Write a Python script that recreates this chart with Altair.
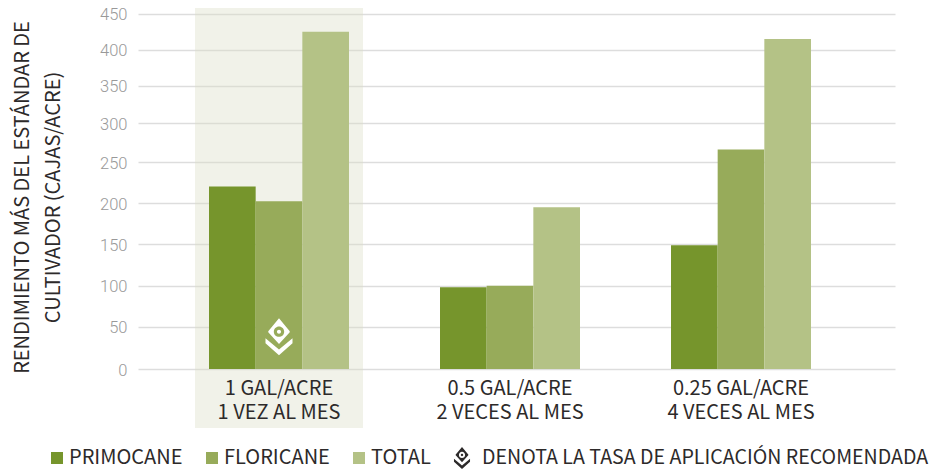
import altair as alt
import pandas as pd

categories = ["1 GAL/ACRE|1 VEZ AL MES", "0.5 GAL/ACRE|2 VECES AL MES", "0.25 GAL/ACRE|4 VECES AL MES"]
line_one = ["1 GAL/ACRE", "0.5 GAL/ACRE", "0.25 GAL/ACRE"]
line_two = ["1 VEZ AL MES", "2 VECES AL MES", "4 VECES AL MES"]
series = ["PRIMOCANE", "FLORICANE", "TOTAL"]
colors = ["#76952C", "#97AB5A", "#B4C286"]
primocane = [220, 98, 149]
floricane = [202, 100, 266]
total = [425, 195, 415]
y_ticks = [0, 50, 100, 150, 200, 250, 300, 350, 400, 450]
y_pixels = [356, 313.7, 272.7, 231.3, 190, 149, 110, 72.7, 36.7, 0.7]
highlight = [categories[0]]
legend_note = ["DENOTA LA TASA DE APLICACIÓN RECOMENDADA"]
y_title = ["RENDIMIENTO MÁS DEL ESTÁNDAR DE", "CULTIVADOR (CAJAS/ACRE)"]
INK = "#2D2A2A"

ICON = ("M0 -1 L0.57 -0.32 Q0.6 -0.28 0.57 -0.24 L0 0.38 L-0.57 -0.24 Q-0.6 -0.28 -0.57 -0.32 Z "
        "M0 -0.56 A0.28 0.28 0 0 0 0 0 A0.28 0.28 0 0 0 0 -0.56 Z "
        "M0 -0.39 A0.11 0.11 0 0 1 0 -0.17 A0.11 0.11 0 0 1 0 -0.39 Z "
        "M-0.73 0.07 L0 0.68 L0.73 0.07 L0.73 0.34 L0 1 L-0.73 0.34 Z")

rows = []
for i, c in enumerate(categories):
    for s, vals in zip(series, [primocane, floricane, total]):
        rows.append({"cat": c, "serie": s, "valor": vals[i]})
df = pd.DataFrame(rows)
labels = pd.DataFrame({"cat": categories, "a": line_one, "b": line_two})

x_scale = alt.Scale(domain=categories, paddingInner=91 / 231, paddingOuter=77.5 / 231, align=71 / 155)
y_scale = alt.Scale(domain=y_ticks, range=y_pixels)
x_enc = alt.X("cat:N", scale=x_scale, axis=alt.Axis(labels=False, domain=False, ticks=False, grid=False, title=None))

panel = alt.Chart(pd.DataFrame({"cat": highlight})).mark_bar(width=168, color="#DCDEC8", opacity=0.4).encode(
    x=x_enc,
    y=alt.value(-10),
    y2=alt.value(415),
)

bars = alt.Chart(df).mark_bar().encode(
    x=x_enc,
    xOffset=alt.XOffset("serie:N", sort=series, scale=alt.Scale(domain=series)),
    y=alt.Y("valor:Q", scale=y_scale,
            axis=alt.Axis(values=y_ticks, tickCount=10, title=y_title, domain=False, ticks=False, grid=True,
                          gridColor="#DDDDDD", gridWidth=1.5, labelFont="Roboto", labelFontWeight=300,
                          labelFontSize=16.5, labelColor="#999999", labelPadding=11, labelOverlap=False,
                          labelOffset=1,
                          titleFont="Noto Sans CJK SC", titleFontSize=20, titleFontWeight=400, titleColor=INK,
                          titleLineHeight=31, titleX=-106, titleY=184, titleAlign="center")),
    color=alt.Color("serie:N", sort=series, scale=alt.Scale(domain=series, range=colors),
                    legend=alt.Legend(orient="none", legendX=-91, legendY=435, direction="horizontal", columns=3,
                                      title=None, symbolType="square", symbolSize=144, symbolStrokeWidth=0,
                                      labelFont="Noto Sans CJK SC", labelFontSize=20, labelColor=INK,
                                      labelOffset=2, columnPadding=19, padding=0)),
)

text_style = dict(font="Noto Sans CJK SC", fontSize=20, color=INK, align="center", baseline="middle")
label_one = alt.Chart(labels).mark_text(**text_style).encode(x=x_enc, y=alt.value(376), text="a:N")
label_two = alt.Chart(labels).mark_text(**text_style).encode(x=x_enc, y=alt.value(400), text="b:N")

icon_bar = alt.Chart(pd.DataFrame({"cat": highlight, "y": [38]})).mark_point(
    shape=ICON, size=1369, filled=True, fill="#FFFFFF", opacity=1, strokeWidth=0
).encode(x=x_enc, y=alt.Y("y:Q", scale=y_scale))

icon_legend = alt.Chart(pd.DataFrame({"k": legend_note})).mark_point(
    shape=ICON, size=484, filled=True, fill=INK, opacity=1, strokeWidth=0
).encode(x=alt.value(324), y=alt.value(445))

note = alt.Chart(pd.DataFrame({"k": legend_note})).mark_text(
    font="Noto Sans CJK SC", fontSize=19.6, color=INK, align="left", baseline="middle"
).encode(x=alt.value(344), y=alt.value(445), text="k:N")

chart = alt.layer(panel, bars, label_one, label_two, icon_bar, icon_legend, note).properties(
    width=757, height=356, autosize="none",
    padding={"left": 130, "top": 5, "right": 37, "bottom": 100},
).configure_view(stroke=None)

chart.save("out.html", embed_options={"renderer": "svg", "actions": False})
